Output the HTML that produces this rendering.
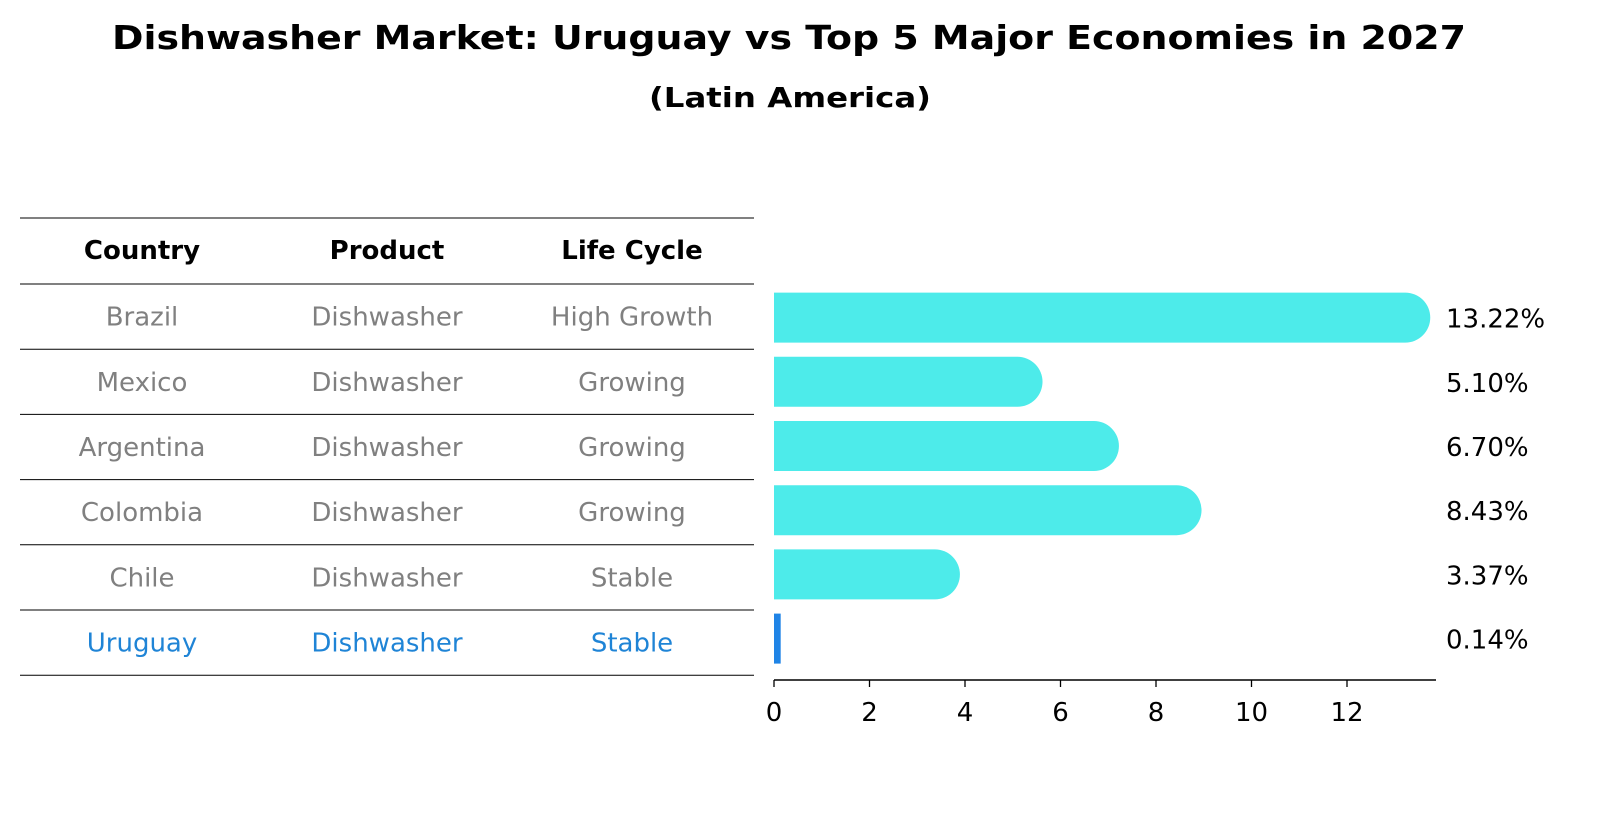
<!DOCTYPE html>
<html><head><meta charset="utf-8"><style>
html,body{margin:0;padding:0;background:#fff;}
svg text{font-family:"DejaVu Sans","Liberation Sans",sans-serif;}
</style></head><body>
<svg id="chart" width="1604" height="823" viewBox="0 0 1604 823" xmlns="http://www.w3.org/2000/svg">
<text x="789" y="49" text-anchor="middle" font-size="33" font-weight="bold" textLength="1354" lengthAdjust="spacingAndGlyphs">Dishwasher Market: Uruguay vs Top 5 Major Economies in 2027</text>
<text x="790" y="107" text-anchor="middle" font-size="28" font-weight="bold" textLength="282" lengthAdjust="spacingAndGlyphs">(Latin America)</text>
<g id="table"></g>
<g id="bars"></g>
<g id="axis"></g>
</svg>
<script>
const countries = ["Brazil","Mexico","Argentina","Colombia","Chile","Uruguay"];
const products = ["Dishwasher","Dishwasher","Dishwasher","Dishwasher","Dishwasher","Dishwasher"];
const lifeCycles = ["High Growth","Growing","Growing","Growing","Stable","Stable"];
const values = [13.22,5.10,6.70,8.43,3.37,0.14];
const valueLabels = ["13.22%","5.10%","6.70%","8.43%","3.37%","0.14%"];
const xTicks = [0,2,4,6,8,10,12];

const NS="http://www.w3.org/2000/svg";
function mk(tag,attrs,parent,text){const e=document.createElementNS(NS,tag);for(const k in attrs)e.setAttribute(k,attrs[k]);if(text!==undefined)e.textContent=text;parent.appendChild(e);return e;}
const x0=774, pxPer=47.75;
function xs(v){return x0+v*pxPer;}
const rowTop=284, rowH=65.2;
function rowCenter(i){return rowTop+rowH*(i+0.5);}
const FS=26;

const table=document.getElementById('table');
const lineYs=[218];
for(let i=0;i<=countries.length;i++) lineYs.push(rowTop+rowH*i);
lineYs.forEach((y,i)=>{
  const l=mk('line',{x1:20,x2:754,y1:y,y2:y,stroke:'#000','stroke-width':1},table);
  
  
});
const colX=[142,387,632];
["Country","Product","Life Cycle"].forEach((h,j)=>{
  const t=mk('text',{x:colX[j],y:259,'text-anchor':'middle','font-size':FS,'font-weight':'bold'},table,h);
  
  
});
countries.forEach((c,i)=>{
  const col = i===countries.length-1 ? '#1f84d6' : '#808080';
  const cells=[c,products[i],lifeCycles[i]];
  cells.forEach((v,j)=>{
    const t=mk('text',{x:colX[j],y:rowCenter(i)+9,'text-anchor':'middle','font-size':FS,fill:col},table,v);
    
    
  });
});

const bars=document.getElementById('bars');
const bh=50, r=25;
values.forEach((v,i)=>{
  const cy=rowCenter(i)-(i*1)+1, y=cy-bh/2;
  const xe=xs(v);
  if(i===values.length-1){
    const b=mk('rect',{x:x0,y:y,width:Math.max(xe-x0,5),height:bh,fill:'#1f84e6'},bars);
    
    
  } else {
    const d=`M${x0},${y} H${xe} A${r},${r} 0 0 1 ${xe},${y+bh} H${x0} Z`;
    const b=mk('path',{d:d,fill:'#4debea'},bars);
    
    
  }
  const t=mk('text',{x:1446,y:cy+10,'font-size':FS,fill:'#000'},bars,valueLabels[i]);
  
  
});

const axis=document.getElementById('axis');
const al=mk('line',{x1:x0,x2:1436,y1:680,y2:680,stroke:'#000','stroke-width':1.5},axis);


xTicks.forEach(v=>{
  const tk=mk('line',{x1:xs(v),x2:xs(v),y1:680,y2:687,stroke:'#000','stroke-width':1.3},axis);
  
  
  const t=mk('text',{x:xs(v),y:721,'text-anchor':'middle','font-size':FS},axis,String(v));
  
  
});
</script>
</body></html>
